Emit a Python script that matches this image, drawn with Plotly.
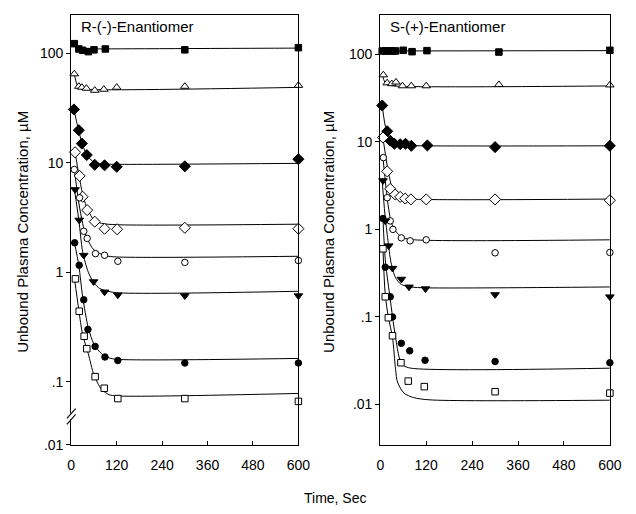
import plotly.graph_objects as go

# ---------------- R-(-)-enantiomer: measured points ----------------
R_SQ_T = [8, 20, 30, 45, 60, 90, 300, 600]
R_SQ_Y = [123, 110, 107, 104, 108, 110, 108, 113]
R_TRI_T = [8, 20, 28, 40, 62, 86, 120, 300, 600]
R_TRI_Y = [65, 50, 49, 48, 46, 47, 49, 50, 51]
R_DIA_T = [7, 20, 28, 41, 62, 88, 120, 300, 600]
R_DIA_Y = [30.8, 19.9, 15, 11.8, 9.6, 9.5, 9.2, 9.3, 10.8]
R_ODIA_T = [10, 22, 30, 42, 62, 88, 121, 300, 600]
R_ODIA_Y = [12.5, 7.6, 4.9, 3.7, 2.9, 2.5, 2.47, 2.55, 2.5]
R_OCIR_T = [8, 22, 33, 42, 64, 88, 123, 300, 600]
R_OCIR_Y = [8.7, 4.8, 2.37, 2.04, 1.48, 1.43, 1.26, 1.23, 1.28]
R_DTRI_T = [10, 21, 33, 59, 88, 123, 300, 600]
R_DTRI_Y = [5.7, 3.0, 1.43, 0.82, 0.66, 0.62, 0.61, 0.61]
R_CIR_T = [9, 21, 33, 44, 63, 89, 123, 300, 600]
R_CIR_Y = [1.86, 1.16, 0.56, 0.30, 0.21, 0.168, 0.156, 0.148, 0.148]
R_OSQ_T = [11, 21, 34, 41, 63, 87, 123, 300, 600]
R_OSQ_Y = [0.87, 0.44, 0.26, 0.20, 0.111, 0.087, 0.070, 0.070, 0.066]

# ---------------- R-(-)-enantiomer: fitted curves ----------------
R_FIT_SQ_T = [8, 14, 22, 35, 600]
R_FIT_SQ_Y = [122, 113, 110, 110, 112]
R_FIT_TRI_T = [8, 15, 22, 35, 600]
R_FIT_TRI_Y = [65, 52, 48, 47, 49]
R_FIT_DIA_T = [7, 15, 20, 30, 45, 60, 80, 120, 600]
R_FIT_DIA_Y = [31, 23, 19.5, 14.5, 11.3, 10.2, 9.8, 9.7, 9.9]
R_FIT_ODIA_T = [10, 20, 30, 40, 60, 80, 120, 600]
R_FIT_ODIA_Y = [12.5, 7.8, 5.2, 4.0, 3.0, 2.8, 2.72, 2.75]
R_FIT_OCIR_T = [8, 20, 30, 40, 60, 90, 120, 600]
R_FIT_OCIR_Y = [8.7, 4.3, 2.8, 2.1, 1.6, 1.42, 1.38, 1.4]
R_FIT_DTRI_T = [8, 20, 30, 45, 60, 75, 90, 120, 600]
R_FIT_DTRI_Y = [5.8, 3.0, 1.55, 1.0, 0.80, 0.71, 0.68, 0.65, 0.67]
R_FIT_CIR_T = [8, 20, 30, 45, 60, 80, 100, 120, 600]
R_FIT_CIR_Y = [1.9, 1.15, 0.6, 0.31, 0.22, 0.18, 0.165, 0.16, 0.163]
R_FIT_OSQ_T = [8, 20, 30, 45, 60, 80, 100, 120, 600]
R_FIT_OSQ_Y = [0.9, 0.45, 0.27, 0.18, 0.115, 0.085, 0.076, 0.074, 0.078]

# ---------------- S-(+)-enantiomer: measured points ----------------
S_SQ_T = [5, 15, 23, 31, 40, 60, 83, 122, 310, 600]
S_SQ_Y = [109, 109, 109, 109, 109, 111, 107, 110, 106, 111]
S_TRI_T = [8, 18, 30, 41, 58, 81, 120, 310, 600]
S_TRI_Y = [58, 47, 46, 48, 43.5, 43.5, 43.5, 45, 44.5]
S_DIA_T = [5, 18, 26, 37, 52, 66, 81, 123, 300, 600]
S_DIA_Y = [26, 13.2, 10.3, 9.5, 9.4, 9.5, 9.0, 9.1, 8.7, 9.0]
S_ODIA_T = [7, 18, 26, 39, 52, 65, 80, 120, 300, 600]
S_ODIA_Y = [11.2, 4.6, 2.9, 2.5, 2.35, 2.25, 2.2, 2.2, 2.2, 2.15]
S_OCIR_T = [8, 18, 26, 33, 55, 78, 120, 300, 600]
S_OCIR_Y = [6.6, 2.3, 1.25, 1.0, 0.8, 0.74, 0.76, 0.54, 0.545]
S_DTRI_T = [7, 13, 22, 32, 55, 75, 118, 300, 600]
S_DTRI_Y = [3.6, 1.25, 0.65, 0.36, 0.27, 0.22, 0.21, 0.18, 0.17]
S_CIR_T = [7, 13, 26, 32, 55, 77, 117, 300, 600]
S_CIR_Y = [1.33, 0.37, 0.17, 0.10, 0.05, 0.041, 0.032, 0.031, 0.030]
S_OSQ_T = [7, 13, 21, 32, 54, 73, 115, 300, 600]
S_OSQ_Y = [0.6, 0.17, 0.098, 0.061, 0.030, 0.0185, 0.016, 0.014, 0.0135]

# ---------------- S-(+)-enantiomer: fitted curves ----------------
S_FIT_SQ_T = [5, 600]
S_FIT_SQ_Y = [109, 110]
S_FIT_TRI_T = [5, 12, 20, 35, 600]
S_FIT_TRI_Y = [58, 48, 45, 43.5, 43.5]
S_FIT_DIA_T = [5, 12, 20, 30, 45, 70, 600]
S_FIT_DIA_Y = [26, 16, 11.5, 9.8, 9.2, 9.05, 9.0]
S_FIT_ODIA_T = [7, 15, 22, 30, 40, 55, 80, 600]
S_FIT_ODIA_Y = [11, 6.5, 4.3, 3.1, 2.6, 2.3, 2.22, 2.22]
S_FIT_OCIR_T = [7, 15, 22, 30, 45, 60, 90, 600]
S_FIT_OCIR_Y = [6.6, 3.0, 1.7, 1.15, 0.9, 0.8, 0.76, 0.76]
S_FIT_DTRI_T = [5, 12, 20, 28, 40, 55, 80, 120, 600]
S_FIT_DTRI_Y = [3.6, 1.5, 0.75, 0.42, 0.28, 0.235, 0.22, 0.215, 0.22]
S_FIT_CIR_T = [7, 13, 20, 26, 32, 40, 50, 60, 80, 600]
S_FIT_CIR_Y = [1.3, 0.45, 0.25, 0.16, 0.10, 0.058, 0.034, 0.028, 0.026, 0.026]
S_FIT_OSQ_T = [7, 13, 21, 32, 40, 45, 62, 87, 130, 600]
S_FIT_OSQ_Y = [0.6, 0.18, 0.10, 0.058, 0.025, 0.018, 0.0135, 0.012, 0.0113, 0.0112]

X_TICKS = [0, 120, 240, 360, 480, 600]
Y_TICK_TEXT = [".01", ".1", "1", "10", "100"]

PANEL_TITLES = ["R-(-)-Enantiomer", "S-(+)-Enantiomer"]
Y_TITLE = "Unbound Plasma Concentration, µM"
X_TITLE = "Time, Sec"

FONT = "Liberation Sans, Arial, sans-serif"
W, H = 636, 514

# marker styles: (symbol, fill, size)
STYLES = {
    "sq": ("square", "black", 6.5),
    "tri": ("triangle-up", "white", 7.5),
    "dia": ("diamond", "black", 8.5),
    "odia": ("diamond", "white", 8.5),
    "ocir": ("circle", "white", 6.5),
    "dtri": ("triangle-down", "black", 7.5),
    "cir": ("circle", "black", 6.5),
    "osq": ("square", "white", 6.5),
}

R_POINTS = {
    "sq": (R_SQ_T, R_SQ_Y), "tri": (R_TRI_T, R_TRI_Y),
    "dia": (R_DIA_T, R_DIA_Y), "odia": (R_ODIA_T, R_ODIA_Y),
    "ocir": (R_OCIR_T, R_OCIR_Y), "dtri": (R_DTRI_T, R_DTRI_Y),
    "cir": (R_CIR_T, R_CIR_Y), "osq": (R_OSQ_T, R_OSQ_Y),
}
R_FITS = [
    (R_FIT_SQ_T, R_FIT_SQ_Y), (R_FIT_TRI_T, R_FIT_TRI_Y),
    (R_FIT_DIA_T, R_FIT_DIA_Y), (R_FIT_ODIA_T, R_FIT_ODIA_Y),
    (R_FIT_OCIR_T, R_FIT_OCIR_Y), (R_FIT_DTRI_T, R_FIT_DTRI_Y),
    (R_FIT_CIR_T, R_FIT_CIR_Y), (R_FIT_OSQ_T, R_FIT_OSQ_Y),
]
S_POINTS = {
    "sq": (S_SQ_T, S_SQ_Y), "tri": (S_TRI_T, S_TRI_Y),
    "dia": (S_DIA_T, S_DIA_Y), "odia": (S_ODIA_T, S_ODIA_Y),
    "ocir": (S_OCIR_T, S_OCIR_Y), "dtri": (S_DTRI_T, S_DTRI_Y),
    "cir": (S_CIR_T, S_CIR_Y), "osq": (S_OSQ_T, S_OSQ_Y),
}
S_FITS = [
    (S_FIT_SQ_T, S_FIT_SQ_Y), (S_FIT_TRI_T, S_FIT_TRI_Y),
    (S_FIT_DIA_T, S_FIT_DIA_Y), (S_FIT_ODIA_T, S_FIT_ODIA_Y),
    (S_FIT_OCIR_T, S_FIT_OCIR_Y), (S_FIT_DTRI_T, S_FIT_DTRI_Y),
    (S_FIT_CIR_T, S_FIT_CIR_Y), (S_FIT_OSQ_T, S_FIT_OSQ_Y),
]

fig = go.Figure()


def add_panel(points, fits, xa, ya):
    for t, y in fits:
        fig.add_trace(go.Scatter(
            x=t, y=y, mode="lines", xaxis=xa, yaxis=ya,
            line=dict(color="black", width=1, shape="spline", smoothing=0.8),
            showlegend=False, hoverinfo="skip"))
    for key, (t, y) in points.items():
        sym, fill, size = STYLES[key]
        fig.add_trace(go.Scatter(
            x=t, y=y, mode="markers", xaxis=xa, yaxis=ya, cliponaxis=False,
            marker=dict(symbol=sym, color=fill, size=size,
                        line=dict(color="black", width=1)),
            showlegend=False))


add_panel(R_POINTS, R_FITS, "x", "y")
add_panel(S_POINTS, S_FITS, "x2", "y2")

# plot-area geometry (pixels)
L1, R1 = 69, 302
L2, R2 = 386, 621.5
TOP, BOT = 15, 452

# left axis bottom sits on a broken scale: label ".01" at the axis floor
LEFT_LOG = [-1.579, 2.354]
RIGHT_LOG = [-2.462, 2.451]

axis_common = dict(showgrid=False, zeroline=False, showline=True,
                   linecolor="black", linewidth=1.2, mirror=True,
                   tickfont=dict(family=FONT, size=14, color="black"),
                   tickcolor="black")

fig.update_layout(
    width=W, height=H, margin=dict(l=0, r=0, t=0, b=0),
    paper_bgcolor="white", plot_bgcolor="white",
    xaxis=dict(domain=[L1 / W, R1 / W], range=[0, 600], tickvals=X_TICKS,
               ticks="inside", ticklen=4, ticklabelstandoff=7, anchor="y",
               **axis_common),
    yaxis=dict(domain=[1 - BOT / H, 1 - TOP / H], type="log", range=LEFT_LOG,
               tickvals=[10 ** LEFT_LOG[0], 0.1, 1, 10, 100],
               ticktext=Y_TICK_TEXT, ticks="outside", ticklen=4,
               anchor="x", **axis_common),
    xaxis2=dict(domain=[L2 / W, R2 / W], range=[0, 600], tickvals=X_TICKS,
                ticks="inside", ticklen=4, ticklabelstandoff=7, anchor="y2",
                **axis_common),
    yaxis2=dict(domain=[1 - BOT / H, 1 - TOP / H], type="log", range=RIGHT_LOG,
                tickvals=[0.01, 0.1, 1, 10, 100],
                ticktext=Y_TICK_TEXT, ticks="outside", ticklen=4,
                anchor="x2", **axis_common),
)


def px_x(p):
    return p / W


def px_y(p):
    return 1 - p / H


# axis break on the left panel's y axis
fig.add_shape(type="rect", xref="paper", yref="paper",
              x0=px_x(67), x1=px_x(71.5), y0=px_y(426), y1=px_y(420),
              fillcolor="white", line=dict(width=0), layer="above")
for dy in (0, 6):
    fig.add_shape(type="line", xref="paper", yref="paper",
                  x0=px_x(64.5), y0=px_y(431 - dy), x1=px_x(73.5), y1=px_y(421 - dy),
                  line=dict(color="black", width=1.1), layer="above")

annos = [
    dict(text=PANEL_TITLES[0], x=px_x(77), y=px_y(27), xanchor="left", yanchor="middle",
         font=dict(size=15)),
    dict(text=PANEL_TITLES[1], x=px_x(394), y=px_y(27), xanchor="left", yanchor="middle",
         font=dict(size=15)),
    dict(text=Y_TITLE, x=px_x(19), y=px_y(236), textangle=-90, xanchor="center",
         yanchor="middle", font=dict(size=15)),
    dict(text=Y_TITLE, x=px_x(333), y=px_y(236), textangle=-90, xanchor="center",
         yanchor="middle", font=dict(size=15)),
    dict(text=X_TITLE, x=px_x(340), y=px_y(506), xanchor="center", yanchor="middle",
         font=dict(size=14)),
]
for a in annos:
    a["font"].update(family=FONT, color="black")
    fig.add_annotation(xref="paper", yref="paper", showarrow=False, **a)

fig.write_html("out.html")
